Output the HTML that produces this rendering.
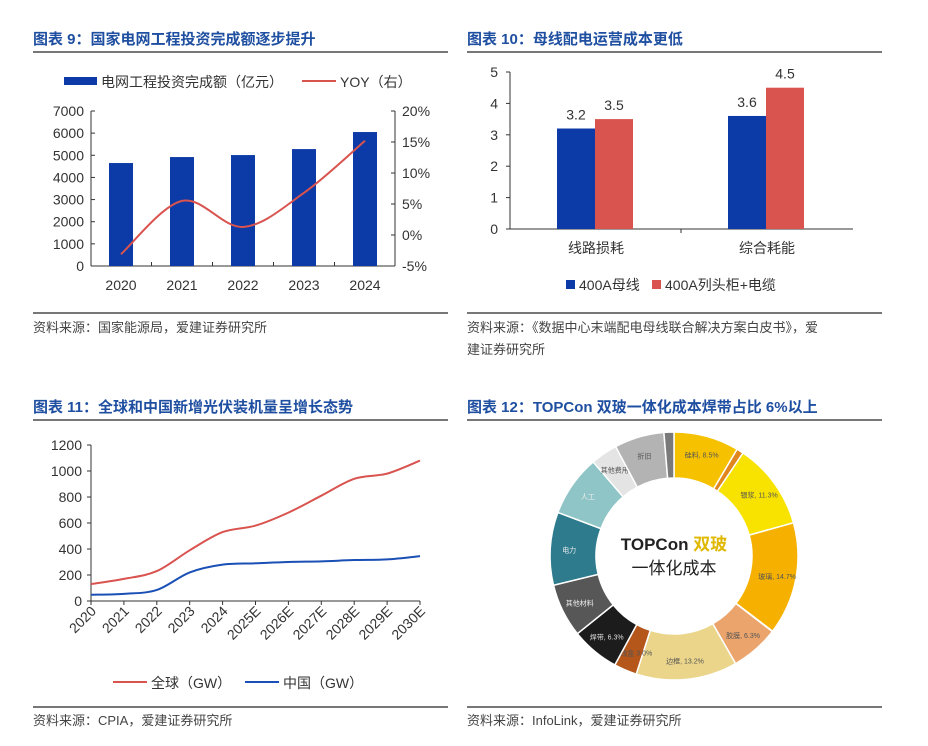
<!DOCTYPE html>
<html><head><meta charset="utf-8">
<style>
body{margin:0;background:#fff;width:928px;height:746px;overflow:hidden;font-family:"Liberation Sans","Noto Sans CJK SC",sans-serif;}
svg{display:block}
.t{font-size:15px;font-weight:bold;fill:#1f4fa0}
.s{font-size:13px;fill:#444}
.k{font-size:14px;fill:#333}
</style></head><body>
<svg width="928" height="746">
<g>
<text class="t" x="33" y="44">图表 9：国家电网工程投资完成额逐步提升</text>
<text class="t" x="467" y="44">图表 10：母线配电运营成本更低</text>
<text class="t" x="33" y="412">图表 11：全球和中国新增光伏装机量呈增长态势</text>
<text class="t" x="467" y="412">图表 12：TOPCon 双玻一体化成本焊带占比 6%以上</text>
<line x1="33" y1="52" x2="448" y2="52" stroke="#777" stroke-width="2"/>
<line x1="467" y1="52" x2="882" y2="52" stroke="#777" stroke-width="2"/>
<line x1="33" y1="420" x2="448" y2="420" stroke="#777" stroke-width="2"/>
<line x1="467" y1="420" x2="882" y2="420" stroke="#777" stroke-width="2"/>
<line x1="33" y1="313" x2="448" y2="313" stroke="#777" stroke-width="2"/>
<line x1="467" y1="313" x2="882" y2="313" stroke="#777" stroke-width="2"/>
<line x1="33" y1="707" x2="448" y2="707" stroke="#777" stroke-width="2"/>
<line x1="467" y1="707" x2="882" y2="707" stroke="#777" stroke-width="2"/>
<text class="s" x="33" y="332">资料来源：国家能源局，爱建证券研究所</text>
<text class="s" x="467" y="332">资料来源：《数据中心末端配电母线联合解决方案白皮书》，爱</text>
<text class="s" x="467" y="354">建证券研究所</text>
<text class="s" x="33" y="725">资料来源：CPIA，爱建证券研究所</text>
<text class="s" x="467" y="725">资料来源：InfoLink，爱建证券研究所</text>
</g>
<g id="c9"></g>
<g id="c10"></g>
<g id="c11"></g>
<g id="c12"></g>
</svg>
<script>
const NS="http://www.w3.org/2000/svg";
function mk(p,tag,at,txt){const e=document.createElementNS(NS,tag);for(const k in at)e.setAttribute(k,at[k]);if(txt!=null)e.textContent=txt;p.appendChild(e);return e;}

// chart 9 data
const years9=["2020","2021","2022","2023","2024"];
const invest9=[4650,4920,5010,5280,6050];
const yoy9=[-3.1,5.5,1.3,6.8,15.2];
const leftTicks9=[0,1000,2000,3000,4000,5000,6000,7000];
const rightTicks9=[-5,0,5,10,15,20];
// chart 10
const cats10=["线路损耗","综合耗能"];
const bus10=[3.2,3.6];
const cab10=[3.5,4.5];
const ticks10=[0,1,2,3,4,5];
// chart 11
const years11=["2020","2021","2022","2023","2024","2025E","2026E","2027E","2028E","2029E","2030E"];
const global11=[130,170,230,390,530,580,680,810,940,980,1080];
const china11=[48,55,85,220,280,290,300,305,315,320,345];
const ticks11=[0,200,400,600,800,1000,1200];
// chart 12
const labels12=["硅料, 8.5%","金刚线, 0.9%","银浆, 11.3%","玻璃, 14.7%","背板, 0.0%","胶膜, 6.3%","边框, 13.2%","接线盒 3.0%","焊带, 6.3%","其他材料","电力","人工","其他费用","折旧","其他"];
const shares12=[8.5,0.9,11.3,14.7,0.05,6.3,13.2,3.0,6.3,7.0,9.5,8.0,3.5,6.5,1.3];

// ---- chart 9
(function(){
const g=document.getElementById('c9');
const y=v=>266-v/7000*155, yr=v=>266-(v+5)/25*155, x=i=>121+i*61;
mk(g,'line',{x1:91,y1:111,x2:91,y2:266,stroke:'#333'});
mk(g,'line',{x1:91,y1:266,x2:395,y2:266,stroke:'#333'});
mk(g,'line',{x1:395,y1:111,x2:395,y2:266,stroke:'#333'});
leftTicks9.forEach(v=>{mk(g,'line',{x1:91,x2:95,y1:y(v),y2:y(v),stroke:'#333'});const t=mk(g,'text',{x:84,y:y(v)+5,'text-anchor':'end',class:'k'},v);});
rightTicks9.forEach(v=>{mk(g,'line',{x1:391,x2:395,y1:yr(v),y2:yr(v),stroke:'#333'});const t=mk(g,'text',{x:402,y:yr(v)+5,class:'k'},v+'%');});
years9.forEach((c,i)=>{
 if(i>0)mk(g,'line',{x1:x(i)-30.5,x2:x(i)-30.5,y1:262,y2:266,stroke:'#333'});
 const b=mk(g,'rect',{x:x(i)-12,y:y(invest9[i]),width:24,height:266-y(invest9[i]),fill:'#0c3aa6'});
 
 const t=mk(g,'text',{x:x(i),y:290,'text-anchor':'middle',class:'k'},c);
});
const P=yoy9.map((v,i)=>[x(i),yr(v)]);
let d='M'+P[0];for(let i=0;i<P.length-1;i++){const p0=P[i-1]||P[i],p1=P[i],p2=P[i+1],p3=P[i+2]||p2;d+=` C${p1[0]+(p2[0]-p0[0])/6},${p1[1]+(p2[1]-p0[1])/6} ${p2[0]-(p3[0]-p1[0])/6},${p2[1]-(p3[1]-p1[1])/6} ${p2[0]},${p2[1]}`;}
const l=mk(g,'path',{d:d,fill:'none',stroke:'#d9534f','stroke-width':2});
const lg=mk(g,'g',{});
mk(lg,'rect',{x:64,y:77,width:33,height:8,fill:'#0c3aa6'});
mk(lg,'text',{x:101,y:87,class:'k'},'电网工程投资完成额（亿元）');
mk(lg,'line',{x1:302,x2:336,y1:81,y2:81,stroke:'#d9534f','stroke-width':2});
mk(lg,'text',{x:340,y:87,class:'k'},'YOY（右）');
})();

// ---- chart 10
(function(){
const g=document.getElementById('c10');
const y=v=>229-v/5*157, cx=i=>596+i*171;
mk(g,'line',{x1:510,y1:72,x2:510,y2:229,stroke:'#333'});
mk(g,'line',{x1:510,y1:229,x2:853,y2:229,stroke:'#333'});
ticks10.forEach(v=>{mk(g,'line',{x1:506,x2:510,y1:y(v),y2:y(v),stroke:'#333'});const t=mk(g,'text',{x:498,y:y(v)+5,'text-anchor':'end',class:'k'},v);});
mk(g,'line',{x1:681,x2:681,y1:229,y2:233,stroke:'#333'});
cats10.forEach((c,i)=>{
 const b1=mk(g,'rect',{x:cx(i)-39,y:y(bus10[i]),width:38,height:229-y(bus10[i]),fill:'#0c3aa6'});
 
 const b2=mk(g,'rect',{x:cx(i)-1,y:y(cab10[i]),width:38,height:229-y(cab10[i]),fill:'#d9534f'});
 
 mk(g,'text',{x:cx(i)-20,y:y(bus10[i])-9,'text-anchor':'middle',class:'k','font-size':'15'},bus10[i].toFixed(1));
 mk(g,'text',{x:cx(i)+18,y:y(cab10[i])-9,'text-anchor':'middle',class:'k','font-size':'15'},cab10[i].toFixed(1));
 const t=mk(g,'text',{x:cx(i),y:253,'text-anchor':'middle',class:'k'},c);
});
const lg=mk(g,'g',{});
mk(lg,'rect',{x:566,y:280,width:9,height:9,fill:'#0c3aa6'});
mk(lg,'text',{x:579,y:290,class:'k'},'400A母线');
mk(lg,'rect',{x:652,y:280,width:9,height:9,fill:'#d9534f'});
mk(lg,'text',{x:665,y:290,class:'k'},'400A列头柜+电缆');
})();

// ---- chart 11
(function(){
const g=document.getElementById('c11');
const y=v=>601-v/1200*156, x=i=>91+i*32.9;
mk(g,'line',{x1:91,y1:445,x2:91,y2:601,stroke:'#333'});
mk(g,'line',{x1:91,y1:601,x2:420,y2:601,stroke:'#333'});
ticks11.forEach(v=>{mk(g,'line',{x1:87,x2:91,y1:y(v),y2:y(v),stroke:'#333'});const t=mk(g,'text',{x:82,y:y(v)+5,'text-anchor':'end',class:'k'},v);});
years11.forEach((c,i)=>{mk(g,'line',{x1:x(i),x2:x(i),y1:601,y2:605,stroke:'#333'});const t=mk(g,'text',{x:x(i)+6,y:612,'text-anchor':'end',class:'k',transform:`rotate(-45 ${x(i)+6} 612)`},c);});
function curve(arr){const P=arr.map((v,i)=>[x(i),y(v)]);let d='M'+P[0];for(let i=0;i<P.length-1;i++){const p0=P[i-1]||P[i],p1=P[i],p2=P[i+1],p3=P[i+2]||p2;d+=` C${p1[0]+(p2[0]-p0[0])/6},${p1[1]+(p2[1]-p0[1])/6} ${p2[0]-(p3[0]-p1[0])/6},${p2[1]-(p3[1]-p1[1])/6} ${p2[0]},${p2[1]}`;}return d;}
const l1=mk(g,'path',{d:curve(global11),fill:'none',stroke:'#d9534f','stroke-width':2});
const l2=mk(g,'path',{d:curve(china11),fill:'none',stroke:'#1a4fb5','stroke-width':2});
const lg=mk(g,'g',{});
mk(lg,'line',{x1:113,x2:147,y1:682,y2:682,stroke:'#d9534f','stroke-width':2});
mk(lg,'text',{x:151,y:688,class:'k'},'全球（GW）');
mk(lg,'line',{x1:245,x2:279,y1:682,y2:682,stroke:'#1a4fb5','stroke-width':2});
mk(lg,'text',{x:283,y:688,class:'k'},'中国（GW）');
})();

// ---- chart 12
(function(){
const g=document.getElementById('c12');
const cols=["#f6c200","#e0861e","#f8e300","#f6b100","#e9a36c","#eaa46c","#ead58a","#b5561a","#1c1c1c","#575757","#2d7b8c","#8fc5c7","#e4e4e4","#b3b3b3","#7a7a7a"];
const cx=674,cy=556,R=124,r=78;
const tot=shares12.reduce((a,b)=>a+b,0);
let a=0;
const pt=(ang,rad)=>[cx+rad*Math.sin(ang),cy-rad*Math.cos(ang)];
shares12.forEach((s,i)=>{
 const a0=a/tot*2*Math.PI;a+=s;const a1=a/tot*2*Math.PI;
 const lg=(a1-a0)>Math.PI?1:0;
 const p0=pt(a0,R),p1=pt(a1,R),q1=pt(a1,r),q0=pt(a0,r);
 const p=mk(g,'path',{d:`M${p0} A${R},${R} 0 ${lg} 1 ${p1} L${q1} A${r},${r} 0 ${lg} 0 ${q0}Z`,fill:cols[i],stroke:'#fff','stroke-width':1.5});
 
 if(s>2){const m=pt((a0+a1)/2,(R+r)/2+4);const t=mk(g,'text',{x:m[0],y:m[1]+3,'text-anchor':'middle','font-size':'7',fill:i==8?'#ddd':(i>=9&&i<=11?'#eee':'#555')},labels12[i]);}
});
mk(g,'text',{x:cx,y:cy-6,'text-anchor':'middle','font-size':'17','font-weight':'bold',fill:'#222'},'TOPCon ').appendChild(Object.assign(document.createElementNS(NS,'tspan'),{textContent:'双玻'})).setAttribute('fill','#e0b800');
mk(g,'text',{x:cx,y:cy+18,'text-anchor':'middle','font-size':'17',fill:'#222'},'一体化成本');
})();
</script>
</body></html>
